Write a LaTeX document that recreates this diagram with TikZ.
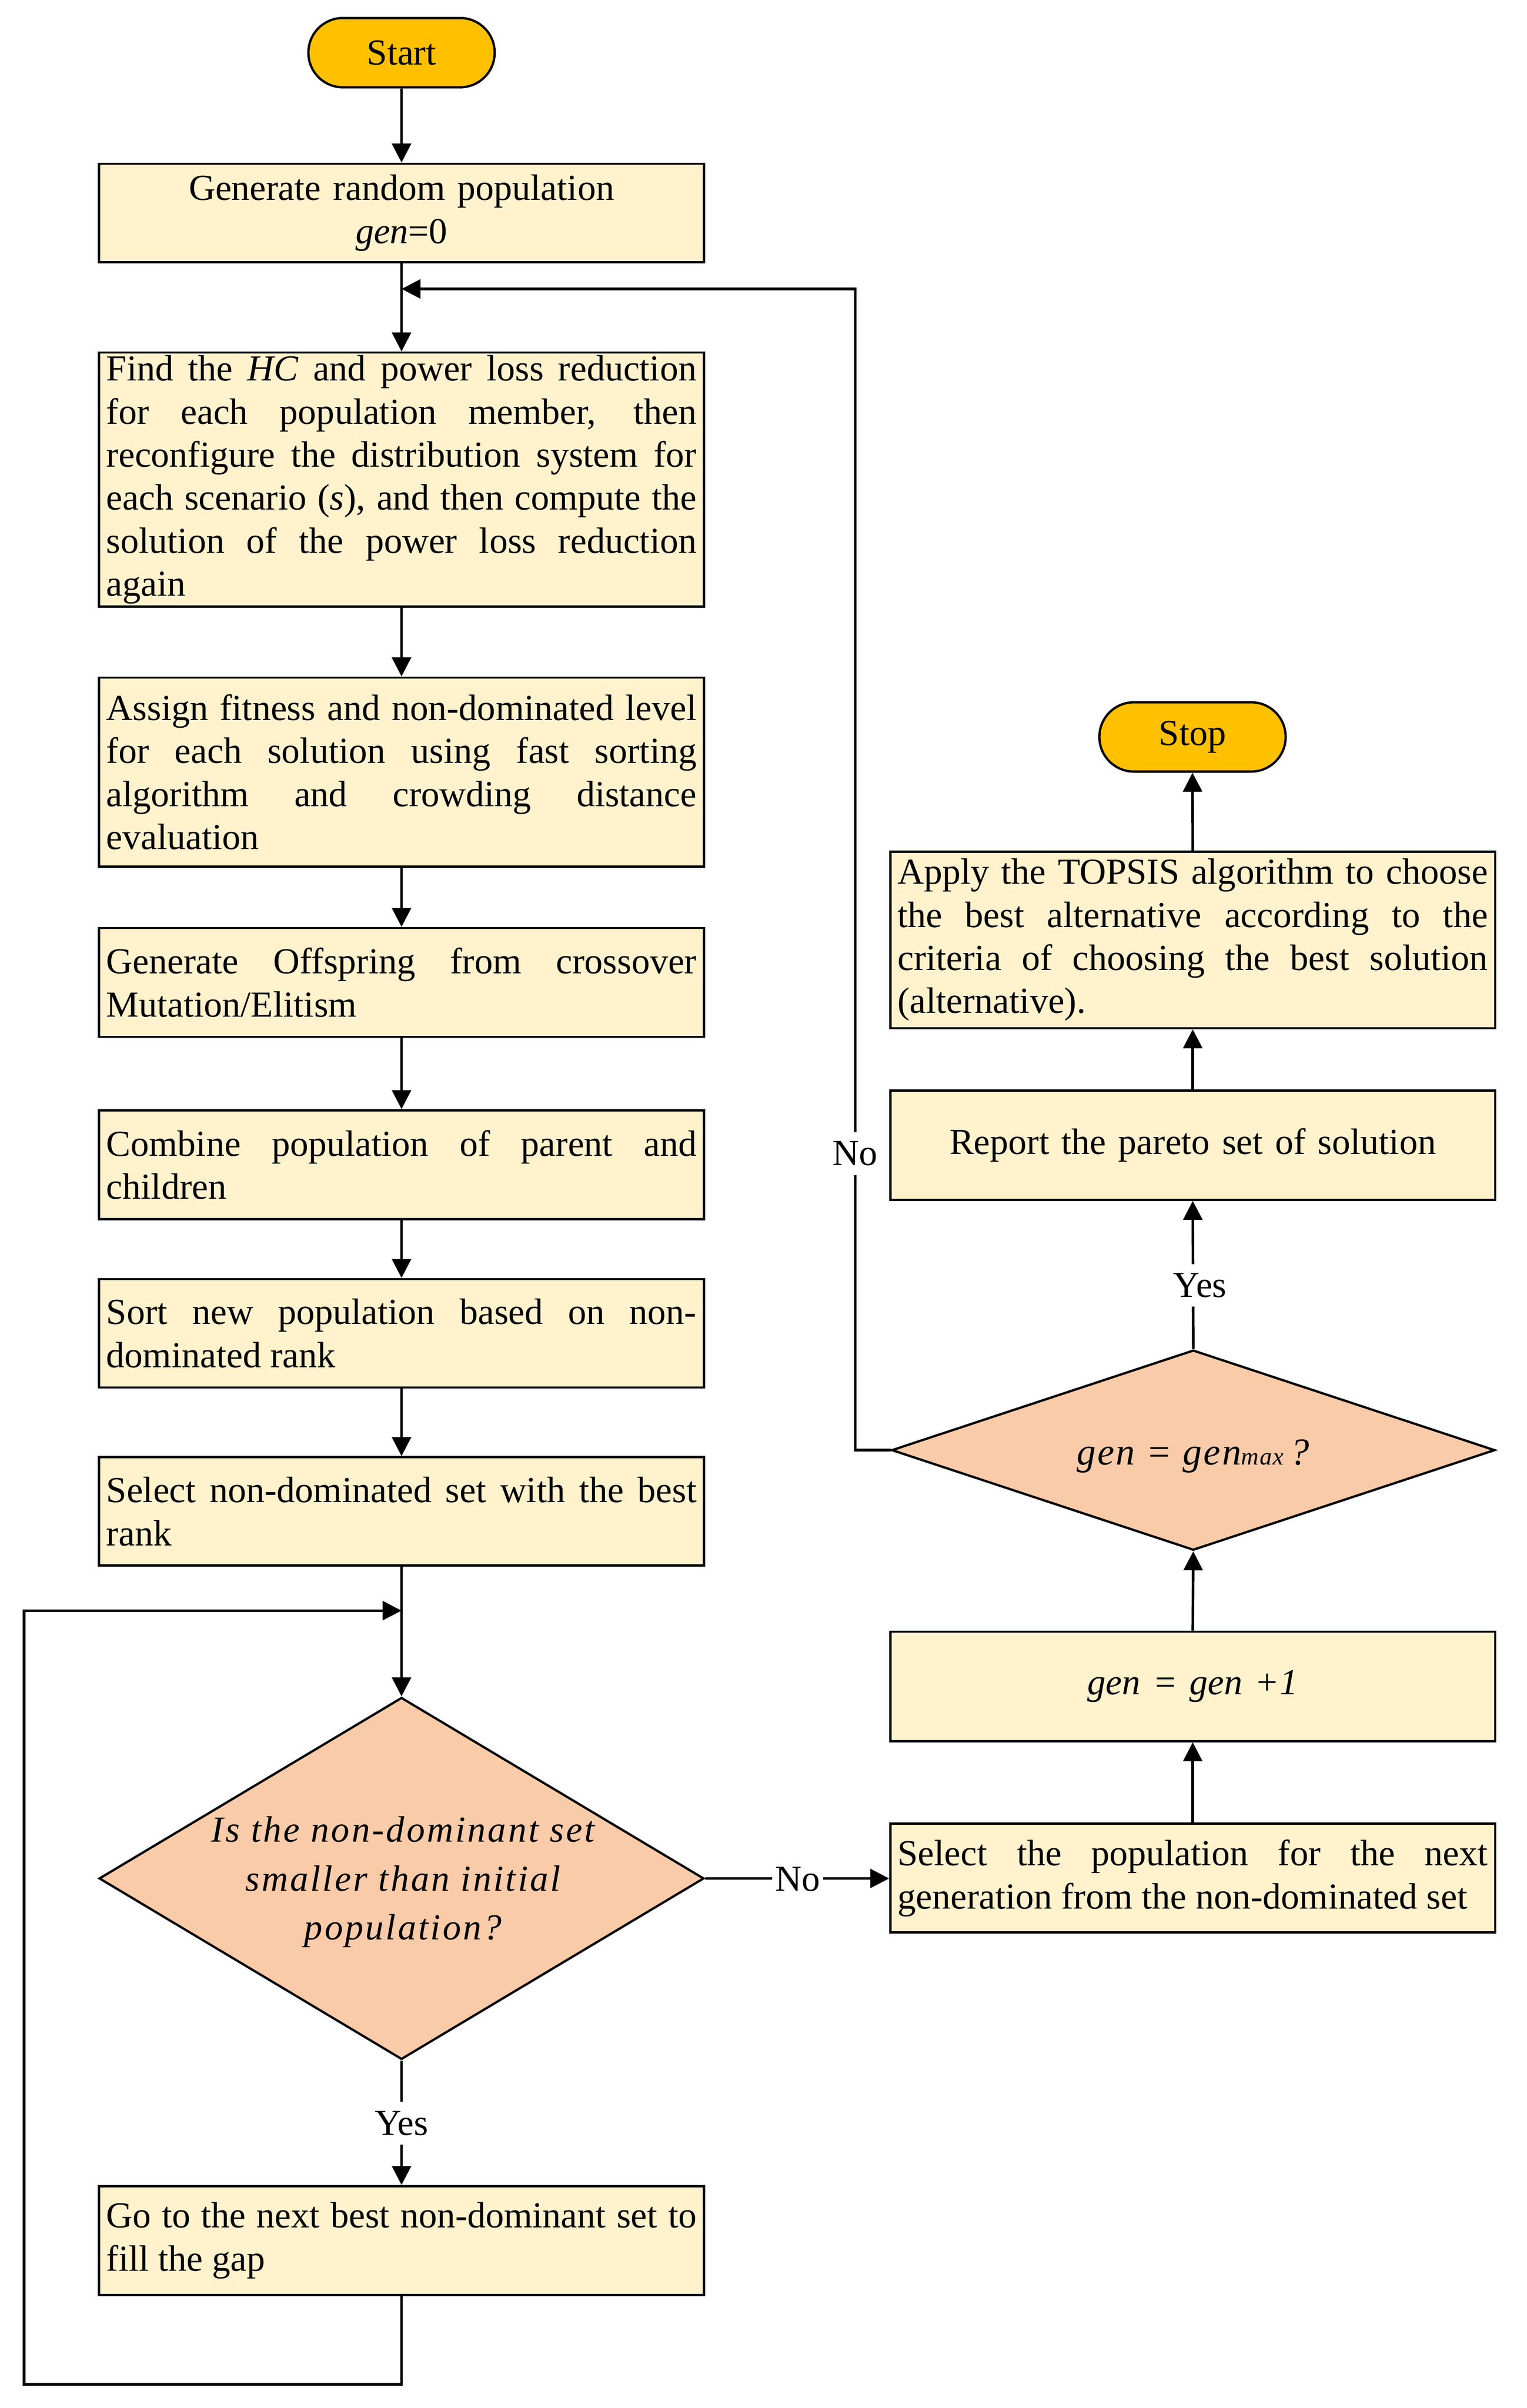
\documentclass[tikz,border=0pt]{standalone}
\usepackage{fontspec}
\setmainfont{Liberation Serif}
\usetikzlibrary{shapes.geometric,arrows.meta}
\definecolor{termfill}{HTML}{FFC000}
\definecolor{boxfill}{HTML}{FFF2CC}
\definecolor{decfill}{HTML}{F9CBA9}
\hyphenpenalty=10000
\exhyphenpenalty=10000
\tolerance=10000
\begin{document}
\begin{tikzpicture}[x=0.5pt,y=-0.5pt,
  term/.style={draw,line width=0.75pt,fill=termfill,rounded corners=11.3pt,minimum width=61pt,minimum height=22.7pt,inner sep=0pt,font=\fontsize{12}{14}\selectfont},
  proc/.style={draw,line width=0.75pt,fill=boxfill,minimum width=198.1pt,inner xsep=2.4pt,inner ysep=0pt,text width=193.3pt,align=justify,font=\fontsize{12}{14.1}\selectfont},
  procc/.style={proc,align=center},
  dec/.style={draw,line width=0.75pt,fill=decfill,diamond,inner sep=0pt,minimum width=198.1pt},
  dectext/.style={inner sep=0pt,align=center,font=\fontsize{12}{16}\selectfont\itshape\addfontfeatures{LetterSpace=5.5}},
  flow/.style={line width=0.85pt,-{Triangle[length=6.2pt,width=6.2pt]}},
  lbl/.style={fill=white,inner xsep=1pt,inner ysep=3pt,font=\fontsize{12}{14}\selectfont},
]
\useasboundingbox (0,0) rectangle (1000,1577.6);

% left column
\node[term] (start) at (263,34.5) {Start};
\node[procc,minimum height=32.25pt] (b1) at (263,139.5) {Generate random population\\\textit{gen}=0};
\node[proc,minimum height=83.25pt] (b2) at (263,314.25) {Find the \textit{HC} and power loss reduction\linebreak for each population member, then\linebreak reconfigure the distribution system for\linebreak each scenario (\textit{s}), and then compute the\linebreak solution of the power loss reduction\linebreak again};
\node[proc,minimum height=61.9pt] (b3) at (263,505.8) {Assign fitness and non-dominated level\linebreak for each solution using fast sorting\linebreak algorithm and crowding distance\linebreak evaluation};
\node[proc,minimum height=35.65pt] (b4) at (263,643.65) {Generate Offspring from crossover\linebreak Mutation/Elitism};
\node[proc,minimum height=35.65pt] (b5) at (263,763.05) {Combine population of parent and\linebreak children};
\node[proc,minimum height=35.5pt] (b6) at (263,873.5) {Sort new population based on non-\linebreak dominated rank};
\node[proc,minimum height=35.5pt] (b7) at (263,990.2) {Select non-dominated set with the best\linebreak rank};
\node[dec,minimum height=118.55pt] (d1) at (263,1230.65) {};
\node[dectext] (d1t) at (264,1233) {Is the non-dominant set\\smaller than initial\\population?};
\node[proc,minimum height=35.65pt] (b12) at (263,1467.85) {Go to the next best non-dominant set to\linebreak fill the gap};

% right column
\node[proc,minimum height=35.65pt] (b8) at (781.25,1230.45) {Select the population for the next\linebreak generation from the non-dominated set};
\node[procc,minimum height=35.85pt] (b9) at (781.25,1104.85) {\textit{gen = gen +1}};
\node[dec,minimum width=197.6pt,minimum height=65.55pt] (d2) at (781.6,950.05) {};
\node[inner sep=0pt,anchor=base,font=\fontsize{12.5}{15}\selectfont\itshape\addfontfeatures{LetterSpace=4}] (d2t) at (781.5,959.5) {gen = gen{\fontsize{8}{9}\selectfont max}\,?};
\node[procc,minimum height=35.7pt] (b10) at (781.25,750.3) {Report the pareto set of solution};
\node[proc,minimum height=57.85pt] (b11) at (781.25,615.75) {Apply the TOPSIS algorithm to choose\linebreak the best alternative according to the\linebreak criteria of choosing the best solution\linebreak (alternative).};
\node[term] (stop) at (781.1,482.8) {Stop};

% helper coordinates
\coordinate (m1) at (263,189.3);
\coordinate (nr) at (560.1,189.3);
\coordinate (m2) at (263,1055.2);
\coordinate (lb) at (15.8,1562.1);

% connectors
\draw[flow] (start.south) -- (b1.north);
\draw[flow] (b1.south) -- (b2.north);
\draw[flow] (d2.west) -| (nr) -- (m1);
\draw[flow] (b2.south) -- (b3.north);
\draw[flow] (b3.south) -- (b4.north);
\draw[flow] (b4.south) -- (b5.north);
\draw[flow] (b5.south) -- (b6.north);
\draw[flow] (b6.south) -- (b7.north);
\draw[flow] (b7.south) -- (d1.north);
\draw[flow] (b12.south) |- (lb) |- (m2);
\draw[flow] (d1.south) -- (b12.north);
\draw[flow] (d1.east) -- (d1.east -| b8.west);
\draw[flow] (b8.north) -- (b9.south);
\draw[flow] (b9.north) -- (d2.south);
\draw[flow] (d2.north) -- (b10.south);
\draw[flow] (b10.north) -- (b11.south);
\draw[flow] (b11.north) -- (stop.south);

% labels
\node[lbl] (yes1) at (263,1391) {Yes};
\node[lbl] (no1) at (522.5,1231) {No};
\node[lbl] (no2) at (560.1,755.8) {No};
\node[lbl] (yes2) at (786,842.1) {Yes};
\end{tikzpicture}
\end{document}
